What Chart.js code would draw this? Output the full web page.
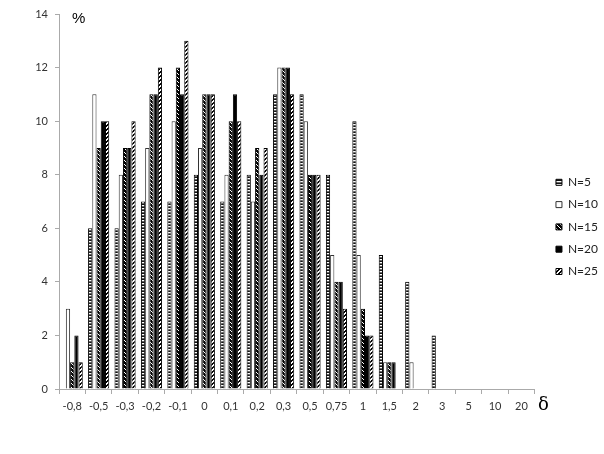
<!DOCTYPE html>
<html>
<head>
<meta charset="utf-8">
<script src="https://cdn.jsdelivr.net/npm/chart.js@4/dist/chart.umd.min.js"></script>
<style>
  html, body { margin: 0; padding: 0; background: #fff; }
  #wrap { width: 604px; height: 454px; }
</style>
</head>
<body>
<div id="wrap"><canvas id="chart"></canvas></div>
<script>
const categories = ['-0,8', '-0,5', '-0,3', '-0,2', '-0,1', '0', '0,1', '0,2', '0,3', '0,5', '0,75', '1', '1,5', '2', '3', '5', '10', '20'];
const n5 = [0, 6, 6, 7, 7, 8, 7, 8, 11, 11, 8, 10, 5, 4, 2, 0, 0, 0];
const n10 = [3, 11, 8, 9, 10, 9, 8, 7, 12, 10, 5, 5, 1, 1, 0, 0, 0, 0];
const n15 = [1, 9, 9, 11, 12, 11, 10, 9, 12, 8, 4, 3, 1, 0, 0, 0, 0, 0];
const n20 = [2, 10, 9, 11, 11, 11, 11, 8, 12, 8, 4, 2, 1, 0, 0, 0, 0, 0];
const n25 = [1, 10, 10, 12, 13, 11, 10, 9, 11, 8, 3, 2, 0, 0, 0, 0, 0, 0];
const yTicks = [0, 2, 4, 6, 8, 10, 12, 14];

// small tiles for the hatch fills
function makePattern(w, h, paint) {
  const c = document.createElement('canvas');
  c.width = w;
  c.height = h;
  const g = c.getContext('2d');
  paint(g);
  return g.createPattern(c, 'repeat');
}

const stripes = makePattern(1, 3, g => {
  g.fillStyle = '#111'; g.fillRect(0, 0, 1, 1);
  g.fillStyle = '#fff'; g.fillRect(0, 1, 1, 1);
  g.fillStyle = '#666'; g.fillRect(0, 2, 1, 1);
});
const backHatch = makePattern(4, 4, g => {
  g.fillStyle = '#000'; g.fillRect(0, 0, 4, 4);
  g.fillStyle = '#fff';
  for (let i = 0; i < 4; i++) g.fillRect(i, i, 1, 1);
});
const fwdHatch = makePattern(4, 4, g => {
  g.fillStyle = '#fff'; g.fillRect(0, 0, 4, 4);
  g.fillStyle = '#000';
  for (let i = 0; i < 4; i++) { g.fillRect(3 - i, i, 1, 1); g.fillRect((4 - i) % 4, i, 1, 1); }
});

Chart.defaults.font.family = 'Lato, "Liberation Sans", sans-serif';
Chart.defaults.font.size = 11;
Chart.defaults.color = '#333';

const axisText = {
  id: 'axisText',
  afterLayout(chart) {
    // move legend right, leaving a gap after the plot
    chart.legend.left += 11;
    chart.legend.right += 11;
  },
  afterDraw(chart) {
    const ctx = chart.ctx;
    ctx.save();
    ctx.fillStyle = '#000';
    ctx.textBaseline = 'middle';
    ctx.font = '15px "Liberation Sans", sans-serif';
    ctx.fillText('%', 72, 19);
    ctx.font = '18px "DejaVu Serif", serif';
    ctx.fillText('\u03B4', 538, 405);
    ctx.restore();
  }
};

const ds = (label, data, fill, border) => ({
  label: label,
  data: data,
  backgroundColor: fill,
  borderColor: border,
  borderWidth: 1,
  categoryPercentage: 0.8,
  barPercentage: 1.0,
});

new Chart(document.getElementById('chart'), {
  type: 'bar',
  data: {
    labels: categories,
    datasets: [
      ds('N=5', n5, stripes, '#000'),
      ds('N=10', n10, '#fff', '#333'),
      ds('N=15', n15, backHatch, '#000'),
      ds('N=20', n20, '#000', '#000'),
      ds('N=25', n25, fwdHatch, '#000'),
    ],
  },
  options: {
    responsive: true,
    maintainAspectRatio: false,
    animation: false,
    layout: { padding: { top: 14, right: 7, bottom: 0, left: 0 } },
    plugins: {
      tooltip: { enabled: false },
      legend: {
        position: 'right',
        align: 'start',
        title: { display: true, text: ' ', font: { size: 10 }, padding: { top: 140, bottom: 0 } },
        labels: { boxWidth: 6, boxHeight: 6, padding: 10.3, color: '#222', font: { size: 12 } },
      },
    },
    scales: {
      x: {
        afterFit: s => { s.height = 65; },
        grid: { drawOnChartArea: false, tickLength: 5, color: '#aaa', offset: true },
        border: { color: '#aaa' },
        ticks: { padding: 6, maxRotation: 0, autoSkip: false },
      },
      y: {
        min: 0,
        max: 14,
        afterFit: s => { s.width = 59; },
        afterBuildTicks: s => { s.ticks = yTicks.map(v => ({ value: v })); },
        grid: { drawOnChartArea: false, tickLength: 4, color: '#aaa' },
        border: { color: '#aaa' },
        ticks: { padding: 7 },
      },
    },
  },
  plugins: [axisText],
});
</script>
</body>
</html>
